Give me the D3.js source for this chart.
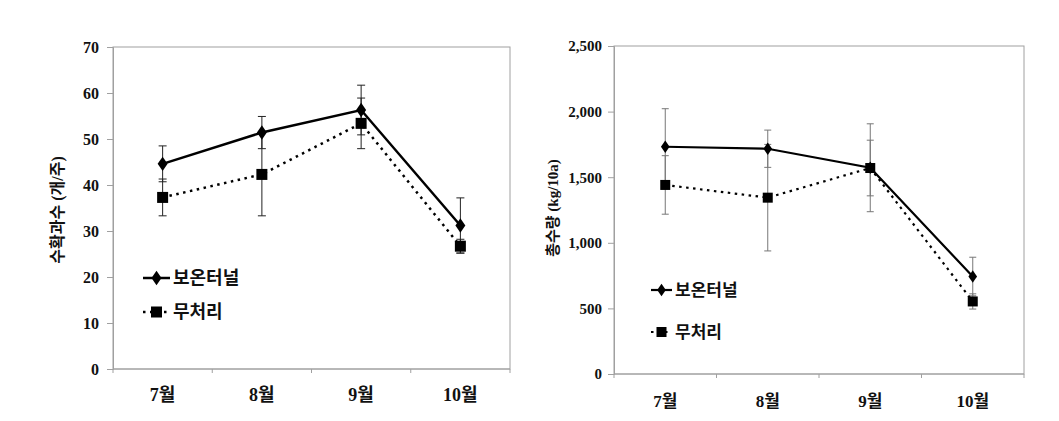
<!DOCTYPE html>
<html><head><meta charset="utf-8">
<script src="https://cdn.jsdelivr.net/npm/d3@7"></script>
<style>body{margin:0;background:#fff}svg{display:block}</style>
</head><body>
<svg id="c" width="1059" height="421"></svg>
<script>
const months = ["7월","8월","9월","10월"];
const seriesNames = ["보온터널","무처리"];
// left panel: 수확과수 (개/주)
const fruitTunnel = [44.6, 51.4, 56.3, 31.2];
const fruitTunnelErr = [3.9, 3.5, 5.4, 6.0];
const fruitCtrl = [37.3, 42.3, 53.4, 26.7];
const fruitCtrlErr = [4.0, 9.0, 5.5, 1.5];
const fruitTicks = [0,10,20,30,40,50,60,70];
// right panel: 총수량 (kg/10a)
const yieldTunnel = [1732, 1717, 1572, 743];
const yieldTunnelErr = [290, 142, 335, 147];
const yieldCtrl = [1441, 1344, 1570, 553];
const yieldCtrlErr = [223, 406, 212, 58];
const yieldTicks = [0,500,1000,1500,2000,2500];

const svg = d3.select("#c");
const serif = "'Liberation Serif','Noto Sans CJK KR',serif";
const kr = "'Noto Sans CJK KR','Noto Sans',sans-serif";

function panel(o){
  const g = svg.append("g");
  const x = d3.scaleBand().domain(months).range([o.left,o.right]);
  const y = d3.scaleLinear().domain([0,o.max]).range([o.bottom,o.top]);
  g.append("rect").attr("x",o.left).attr("y",o.top).attr("width",o.right-o.left).attr("height",o.bottom-o.top)
    .attr("fill","none").attr("stroke","#a0a0a0").attr("stroke-width",1);
  const ya = g.append("g").attr("transform",`translate(${o.left},0)`)
    .call(d3.axisLeft(y).tickValues(o.ticks).tickSize(6).tickPadding(o.tpad).tickFormat(d3.format(o.fmt)));
  ya.select(".domain").attr("stroke","#a0a0a0");
  ya.selectAll(".tick line").attr("stroke","#a0a0a0");
  ya.selectAll("text").attr("font-family",serif).attr("font-weight","bold").attr("font-size",o.fs).attr("fill","#111");
  const xa = g.append("g").attr("transform",`translate(0,${o.bottom})`);
  xa.append("line").attr("x1",o.left).attr("x2",o.right).attr("stroke","#a0a0a0");
  const bounds = months.map(m=>x(m)).concat([x(months[months.length-1])+x.bandwidth()]);
  xa.selectAll("line.t").data(bounds).join("line").attr("class","t")
    .attr("x1",d=>d).attr("x2",d=>d).attr("y1",0).attr("y2",4).attr("stroke","#a0a0a0");
  xa.selectAll("text").data(months).join("text")
    .attr("x",d=>x(d)+x.bandwidth()/2).attr("y",o.xly).attr("dy","0.36em").attr("text-anchor","middle")
    .attr("font-family",serif).attr("font-weight","bold").attr("font-size",o.xfs).attr("fill","#111").text(d=>d);
  g.append("text").attr("transform",`translate(${o.ytx},${o.yty}) rotate(-90)`).attr("text-anchor","middle")
    .attr("dy","0.36em")
    .attr("font-family",serif).attr("font-weight","bold").attr("font-size",o.ytfs).attr("fill","#111").text(o.ytitle);
  const cx = d=>x(d)+x.bandwidth()/2;
  const sets = [
    {vals:o.a, err:o.aErr, dash:null, marker:"diamond"},
    {vals:o.b, err:o.bErr, dash:"2.5,4.5", marker:"square"}
  ];
  sets.forEach(s=>{
    const eg = g.append("g").attr("stroke",o.errColor).attr("stroke-width",1);
    months.forEach((m,i)=>{
      const xx=cx(m), y1=y(s.vals[i]+s.err[i]), y2=y(s.vals[i]-s.err[i]);
      eg.append("line").attr("x1",xx).attr("x2",xx).attr("y1",y1).attr("y2",y2);
      eg.append("line").attr("x1",xx-o.cap).attr("x2",xx+o.cap).attr("y1",y1).attr("y2",y1);
      eg.append("line").attr("x1",xx-o.cap).attr("x2",xx+o.cap).attr("y1",y2).attr("y2",y2);
    });
  });
  const line = d3.line().x((d,i)=>cx(months[i])).y(d=>y(d));
  sets.slice().reverse().forEach(s=>{
    g.append("path").datum(s.vals).attr("d",line).attr("fill","none").attr("stroke","#000")
      .attr("stroke-width",o.lw).attr("stroke-dasharray",s.dash);
  });
  sets.forEach(s=>{
    months.forEach((m,i)=>{
      if(s.marker==="diamond"){
        g.append("path").attr("d",d3.symbol(d3.symbolDiamond, o.dsz)()).attr("transform",`translate(${cx(m)},${y(s.vals[i])}) scale(1.2,1)`).attr("fill","#000");
      } else {
        g.append("rect").attr("x",cx(m)-o.sq/2).attr("y",y(s.vals[i])-o.sq/2).attr("width",o.sq).attr("height",o.sq).attr("fill","#000");
      }
    });
  });
  const lg = g.append("g");
  [0,1].forEach(k=>{
    const ly = o.legY[k];
    lg.append("line").attr("x1",o.legX).attr("x2",o.legX+o.legW).attr("y1",ly).attr("y2",ly)
      .attr("stroke","#000").attr("stroke-width",o.lw).attr("stroke-dasharray",k?"2.5,4.5":null);
    const mx=o.legX+o.legW/2;
    if(k===0) lg.append("path").attr("d",d3.symbol(d3.symbolDiamond,o.dsz)()).attr("transform",`translate(${mx},${ly}) scale(1.2,1)`).attr("fill","#000");
    else lg.append("rect").attr("x",mx-o.sq/2).attr("y",ly-o.sq/2).attr("width",o.sq).attr("height",o.sq).attr("fill","#000");
    lg.append("text").attr("x",o.legX+o.legW+3).attr("y",ly).attr("dy","0.36em")
      .attr("font-family",kr).attr("font-weight",o.legW8).attr("font-size",o.legfs).attr("fill","#111").text(seriesNames[k]);
  });
}

panel({left:113,right:510,top:47,bottom:369,max:70,ticks:fruitTicks,fmt:"d",fs:16,tpad:8,
  xly:26,xfs:18,ytx:57,yty:210,ytfs:16,ytitle:"수확과수 (개/주)",
  a:fruitTunnel,aErr:fruitTunnelErr,b:fruitCtrl,bErr:fruitCtrlErr,errColor:"#222",cap:4,lw:2.5,dsz:60,sq:11,
  legX:143,legW:27,legY:[278,312],legfs:18,legW8:"bold"});
panel({left:614,right:1024,top:46,bottom:374,max:2500,ticks:yieldTicks,fmt:",",fs:15,tpad:6,
  xly:27,xfs:17,ytx:553,yty:208,ytfs:15,ytitle:"총수량 (kg/10a)",
  a:yieldTunnel,aErr:yieldTunnelErr,b:yieldCtrl,bErr:yieldCtrlErr,errColor:"#777",cap:3.5,lw:2.2,dsz:45,sq:10,
  legX:651,legW:21,legY:[290,332],legfs:17,legW8:"bold"});
</script>
</body></html>
